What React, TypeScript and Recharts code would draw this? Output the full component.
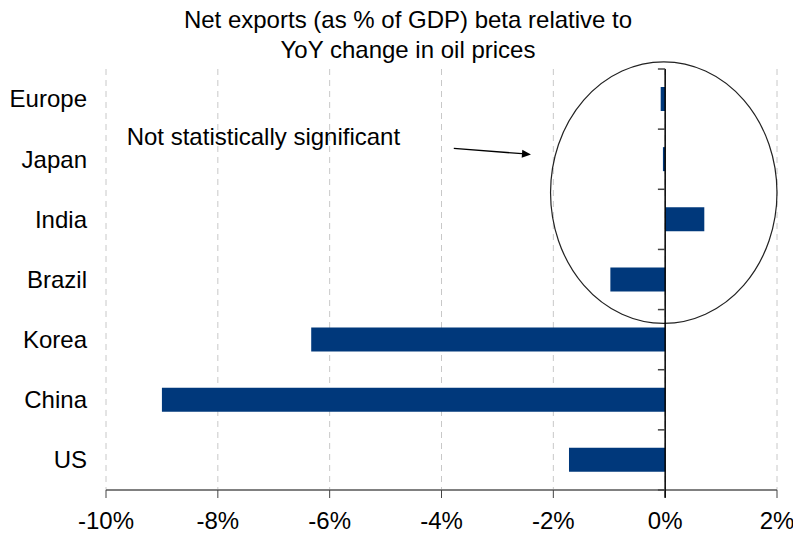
import React from 'react';
import {
  BarChart,
  Bar,
  ComposedChart,
  XAxis,
  YAxis,
  CartesianGrid,
  ReferenceLine,
  ReferenceArea,
  ReferenceDot,
} from 'recharts';

const FONT = '"Liberation Sans", Arial, sans-serif';

// Beta of net exports (% of GDP) vs YoY oil price change, in percent
const countries = ['Europe', 'Japan', 'India', 'Brazil', 'Korea', 'China', 'US'];
const betas = [-0.08, -0.04, 0.7, -0.98, -6.33, -9.0, -1.72];
const xTicks = [-10, -8, -6, -4, -2, 0, 2];
// category boundaries, counted from the bottom of the plot
const boundaryTicks = [0, 1, 2, 3, 4, 5, 6, 7];

const data = countries.map((name, i) => ({ name, value: betas[i] }));

// annotation placement (x in %, y in category-boundary units)
const ellipseBox = { x1: -2.05, x2: 2.0, y1: 2.77, y2: 7.12 };
const arrowFrom = { x: -3.78, y: 5.68 };
const arrowTo = { x: -2.4, y: 5.58 };
const notePos = { x: -9.63, y: 5.87 };
const noteText = 'Not statistically significant';

const W = 793;
const H = 538;
const margin = { top: 69, right: 16, bottom: 18, left: 0 };

const CategoryTick = (props: any) => {
  const { y, payload } = props;
  return (
    <text x={87} y={y} dy="0.35em" textAnchor="end" fontSize={24} fontFamily={FONT} fill="#000">
      {payload.value}
    </text>
  );
};

const Ellipse = (props: any) => {
  const { x, y, width, height } = props;
  return (
    <ellipse
      cx={x + width / 2}
      cy={y + height / 2}
      rx={Math.abs(width) / 2}
      ry={Math.abs(height) / 2}
      fill="none"
      stroke="#222"
      strokeWidth={1.2}
    />
  );
};

const Arrow = (props: any) => {
  const { x1, y1, x2, y2 } = props;
  const ang = Math.atan2(y2 - y1, x2 - x1);
  const len = 9;
  const w = 4;
  const bx = x2 - len * Math.cos(ang);
  const by = y2 - len * Math.sin(ang);
  const pts = [
    `${x2},${y2}`,
    `${bx - w * Math.sin(ang)},${by + w * Math.cos(ang)}`,
    `${bx + w * Math.sin(ang)},${by - w * Math.cos(ang)}`,
  ].join(' ');
  return (
    <g>
      <line x1={x1} y1={y1} x2={bx} y2={by} stroke="#000" strokeWidth={1.3} />
      <polygon points={pts} fill="#000" />
    </g>
  );
};

const Note = (props: any) => {
  const { cx, cy } = props;
  return (
    <text x={cx} y={cy} dy="0.35em" fontSize={24} fontFamily={FONT} fill="#000">
      {noteText}
    </text>
  );
};

export default function App() {
  return (
    <div style={{ position: 'relative', width: W, height: H, background: '#fff', fontFamily: FONT }}>
      <style>{'body{margin:0}'}</style>
      <div
        style={{
          position: 'absolute',
          top: 5,
          left: 408,
          transform: 'translateX(-50%)',
          whiteSpace: 'nowrap',
          textAlign: 'center',
          fontSize: 24,
          lineHeight: '30px',
          color: '#000',
        }}
      >
        Net exports (as % of GDP) beta relative to
        <br />
        YoY change in oil prices
      </div>
      <BarChart
        width={W}
        height={H}
        data={data}
        layout="vertical"
        margin={margin}
        barSize={24}
        style={{ position: 'absolute', top: 0, left: 0 }}
      >
        <CartesianGrid horizontal={false} stroke="#c8c8c8" strokeDasharray="6 5" />
        <XAxis
          type="number"
          domain={[-10, 2]}
          ticks={xTicks}
          tickFormatter={(v: number) => `${v}%`}
          axisLine={{ stroke: '#808080', strokeWidth: 2 }}
          tickLine={{ stroke: '#444' }}
          tickSize={8}
          tickMargin={14}
          tick={{ fill: '#000', fontSize: 24, fontFamily: FONT }}
          allowDataOverflow
        />
        <YAxis
          type="category"
          dataKey="name"
          width={106}
          axisLine={false}
          tickLine={false}
          tick={<CategoryTick />}
        />
        <Bar dataKey="value" fill="#00387B" isAnimationActive={false} />
      </BarChart>

      {/* overlay: value axis line, category boundary ticks and the annotation */}
      <ComposedChart
        width={W}
        height={H}
        data={[]}
        margin={{ top: margin.top, right: margin.right, bottom: margin.bottom + 30, left: 106 }}
        style={{ position: 'absolute', top: 0, left: 0, pointerEvents: 'none' }}
      >
        <XAxis type="number" dataKey="x" domain={[-10, 2]} allowDataOverflow hide />
        <YAxis type="number" domain={[0, 7]} allowDataOverflow hide />
        <ReferenceLine
          ifOverflow="visible"
          segment={[
            { x: 0, y: -0.13 },
            { x: 0, y: 7 },
          ]}
          stroke="#000"
          strokeWidth={1.5}
        />
        {boundaryTicks.map((t) => (
          <ReferenceLine
            key={t}
            ifOverflow="visible"
            segment={[
              { x: -0.13, y: t },
              { x: 0, y: t },
            ]}
            stroke="#444"
            strokeWidth={1.5}
          />
        ))}
        <ReferenceArea
          x1={ellipseBox.x1}
          x2={ellipseBox.x2}
          y1={ellipseBox.y1}
          y2={ellipseBox.y2}
          ifOverflow="visible"
          shape={<Ellipse />}
        />
        <ReferenceLine ifOverflow="visible" segment={[arrowFrom, arrowTo]} shape={<Arrow />} />
        <ReferenceDot x={notePos.x} y={notePos.y} r={0} ifOverflow="visible" shape={<Note />} />
      </ComposedChart>
    </div>
  );
}
